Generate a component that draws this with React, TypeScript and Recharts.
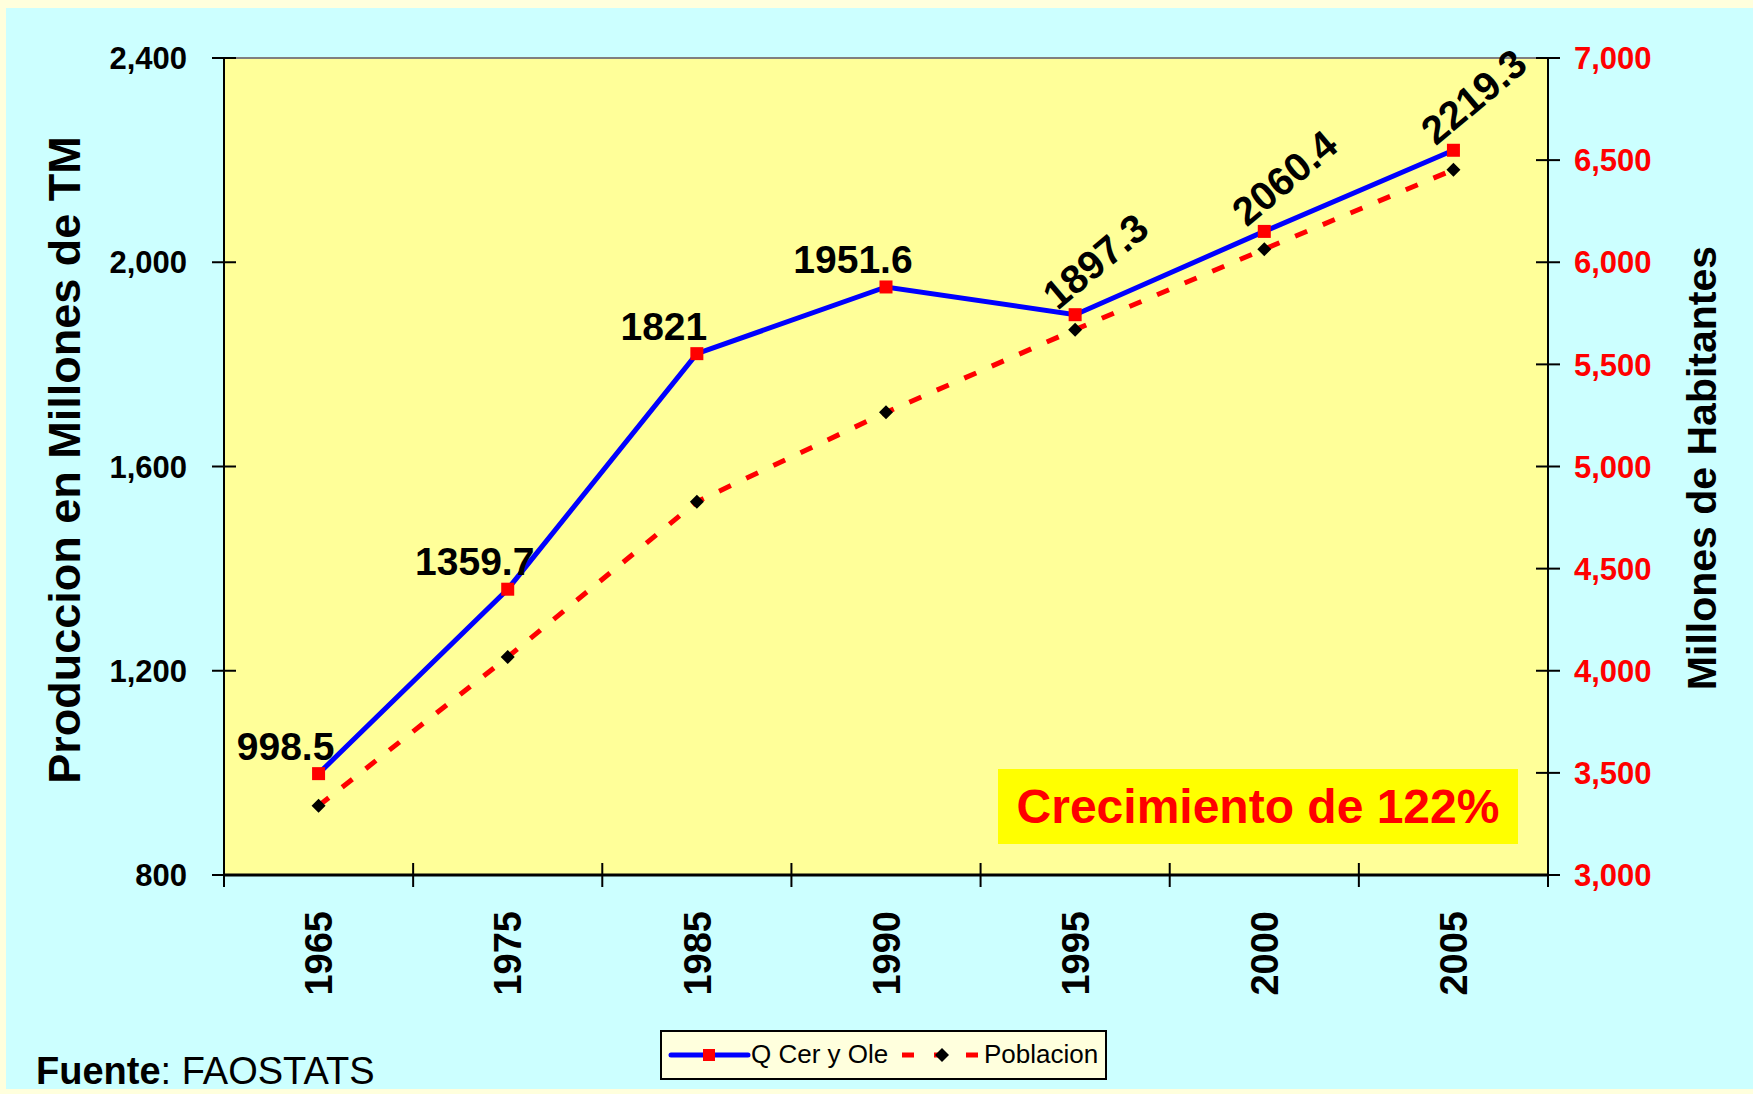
import React from 'react';
import { ComposedChart, Line, XAxis, YAxis, CartesianGrid, ReferenceLine, Legend } from 'recharts';

const years = ['1965', '1975', '1985', '1990', '1995', '2000', '2005'];
const production = [998.5, 1359.7, 1821, 1951.6, 1897.3, 2060.4, 2219.3];
const population = [3339, 4067, 4828, 5265, 5670, 6064, 6453];
const leftTicks = [800, 1200, 1600, 2000, 2400];
const rightTicks = [3000, 3500, 4000, 4500, 5000, 5500, 6000, 6500, 7000];

const data = years.map((y, i) => ({ year: y, prod: production[i], pop: population[i] }));

const W = 1753;
const H = 1094;
const MARGIN = { top: 58, left: 124, right: 105, bottom: 119 };
const Y_AXIS_W = 100;
const PLOT_W = W - MARGIN.left - MARGIN.right - 2 * Y_AXIS_W;
const HALF_BAND = PLOT_W / years.length / 2;
const FONT = '"Liberation Sans", Arial, Helvetica, sans-serif';

const fmt = (v: number) => v.toLocaleString('en-US');

const LeftTick = (props: any) => {
  const { x, y, payload } = props;
  return (
    <g>
      <line x1={x - 12} x2={x + 12} y1={y} y2={y} stroke="#000" strokeWidth={2} />
      <text x={x - 37} y={y} dy="0.36em" textAnchor="end" fontFamily={FONT} fontWeight="bold" fontSize={31} fill="#000">
        {fmt(payload.value)}
      </text>
    </g>
  );
};

const RightTick = (props: any) => {
  const { x, y, payload } = props;
  return (
    <g>
      <line x1={x - 12} x2={x + 12} y1={y} y2={y} stroke="#000" strokeWidth={2} />
      <text x={x + 26} y={y} dy="0.36em" textAnchor="start" fontFamily={FONT} fontWeight="bold" fontSize={31} fill="#FF0000">
        {fmt(payload.value)}
      </text>
    </g>
  );
};

const XTick = (props: any) => {
  const { x, y, payload, index } = props;
  const n = years.length;
  const half = HALF_BAND;
  const ty = y + 36;
  return (
    <g>
      <line x1={x - half} x2={x - half} y1={y - 12} y2={y + 12} stroke="#000" strokeWidth={2} />
      {index === n - 1 && (
        <line x1={x + half} x2={x + half} y1={y - 12} y2={y + 12} stroke="#000" strokeWidth={2} />
      )}
      <text
        x={x}
        y={ty}
        dy="0.36em"
        textAnchor="end"
        transform={`rotate(-90 ${x} ${ty})`}
        fontFamily={FONT}
        fontWeight="bold"
        fontSize={38}
        fill="#000"
      >
        {payload.value}
      </text>
    </g>
  );
};

const ProdLabel = (props: any) => {
  const { x, y, value, index } = props;
  if (index < 4) {
    return (
      <text x={x - 33} y={y - 28} dy="0.36em" textAnchor="middle" fontFamily={FONT} fontWeight="bold" fontSize={39} fill="#000">
        {value}
      </text>
    );
  }
  const cx = x + 20;
  const cy = y - 54;
  return (
    <text
      x={cx}
      y={cy}
      dy="0.36em"
      textAnchor="middle"
      transform={`rotate(-40 ${cx} ${cy})`}
      fontFamily={FONT}
      fontWeight="bold"
      fontSize={40}
      fill="#000"
    >
      {value}
    </text>
  );
};

const SquareDot = (props: any) => {
  const { cx, cy, index } = props;
  return <rect key={`sq-${index}`} x={cx - 6.5} y={cy - 6.5} width={13} height={13} fill="#FF0000" />;
};

const DiamondDot = (props: any) => {
  const { cx, cy, index } = props;
  const r = 7;
  return (
    <path
      key={`dm-${index}`}
      d={`M${cx},${cy - r} L${cx + r},${cy} L${cx},${cy + r} L${cx - r},${cy} Z`}
      fill="#000"
    />
  );
};

const LegendContent = () => (
  <div
    style={{
      width: 447,
      height: 50,
      boxSizing: 'border-box',
      border: '2px solid #000',
      background: '#FFFFDD',
      position: 'relative',
      fontFamily: FONT,
      fontSize: 26,
      color: '#000',
    }}
  >
    <svg width={447} height={46} style={{ position: 'absolute', left: 0, top: 0 }}>
      <line x1={9} x2={86} y1={23} y2={23} stroke="#0000FF" strokeWidth={5} strokeLinecap="round" />
      <rect x={41} y={17} width={12} height={12} fill="#FF0000" />
      <line x1={240} x2={318} y1={23} y2={23} stroke="#FF0000" strokeWidth={5} strokeDasharray="12 20" />
      <path d="M280,16 L287,23 L280,30 L273,23 Z" fill="#000" />
    </svg>
    <span style={{ position: 'absolute', left: 89, top: 7, whiteSpace: 'nowrap' }}>Q Cer y Ole</span>
    <span style={{ position: 'absolute', left: 322, top: 7, whiteSpace: 'nowrap' }}>Poblacion</span>
  </div>
);

export default function App() {
  return (
    <div style={{ position: 'absolute', left: 0, top: 0, width: W, height: H, background: '#FFFFDD', overflow: 'hidden' }}>
      <div style={{ position: 'absolute', left: 6, top: 8, width: W - 6, height: 1081, background: '#CCFFFF' }} />
      <div style={{ position: 'absolute', left: 0, top: 0 }}>
        <ComposedChart width={W} height={H} data={data} margin={MARGIN} style={{ fontFamily: FONT }}>
          <CartesianGrid fill="#FFFF99" stroke="none" horizontal={false} vertical={false} />
          <XAxis
            dataKey="year"
            height={100}
            padding={{ left: HALF_BAND, right: HALF_BAND }}
            tickLine={false}
            tickSize={0}
            tickMargin={0}
            interval={0}
            axisLine={{ stroke: '#000', strokeWidth: 3 }}
            tick={<XTick />}
          />
          <YAxis
            yAxisId="left"
            orientation="left"
            width={Y_AXIS_W}
            type="number"
            domain={[800, 2400]}
            ticks={leftTicks}
            interval={0}
            tickLine={false}
            tickSize={0}
            tickMargin={0}
            axisLine={{ stroke: '#000', strokeWidth: 2 }}
            tick={<LeftTick />}
          />
          <YAxis
            yAxisId="right"
            orientation="right"
            width={Y_AXIS_W}
            type="number"
            domain={[3000, 7000]}
            ticks={rightTicks}
            interval={0}
            tickLine={false}
            tickSize={0}
            tickMargin={0}
            axisLine={{ stroke: '#000', strokeWidth: 2 }}
            tick={<RightTick />}
          />
          <ReferenceLine yAxisId="left" y={2400} stroke="#808080" strokeWidth={2} />
          <Line
            yAxisId="right"
            dataKey="pop"
            name="Poblacion"
            stroke="#FF0000"
            strokeWidth={5}
            strokeDasharray="13 17"
            dot={DiamondDot}
            activeDot={false}
            isAnimationActive={false}
          />
          <Line
            yAxisId="left"
            dataKey="prod"
            name="Q Cer y Ole"
            stroke="#0000FF"
            strokeWidth={5}
            dot={SquareDot}
            activeDot={false}
            label={ProdLabel}
            isAnimationActive={false}
          />
          <Legend
            layout="horizontal"
            verticalAlign="middle"
            align="center"
            content={<LegendContent />}
            wrapperStyle={{ position: 'absolute', left: 660, top: 1030, width: 447, height: 50 }}
          />
        </ComposedChart>
      </div>
      <div
        style={{
          position: 'absolute',
          left: 65,
          top: 460,
          transform: 'translate(-50%, -50%) rotate(-90deg)',
          whiteSpace: 'nowrap',
          fontFamily: FONT,
          fontWeight: 'bold',
          fontSize: 45,
          color: '#000',
        }}
      >
        Produccion en Millones de TM
      </div>
      <div
        style={{
          position: 'absolute',
          left: 1702,
          top: 468,
          transform: 'translate(-50%, -50%) rotate(-90deg)',
          whiteSpace: 'nowrap',
          fontFamily: FONT,
          fontWeight: 'bold',
          fontSize: 41,
          color: '#000',
        }}
      >
        Millones de Habitantes
      </div>
      <div
        style={{
          position: 'absolute',
          left: 998,
          top: 769,
          width: 520,
          height: 75,
          background: '#FFFF00',
          display: 'flex',
          alignItems: 'center',
          justifyContent: 'center',
          fontFamily: FONT,
          fontWeight: 'bold',
          fontSize: 48,
          color: '#FF0000',
          whiteSpace: 'nowrap',
        }}
      >
        Crecimiento de 122%
      </div>
      <div
        style={{
          position: 'absolute',
          left: 36,
          top: 1050,
          fontFamily: FONT,
          fontSize: 38,
          color: '#000',
          whiteSpace: 'nowrap',
          lineHeight: '42px',
        }}
      >
        <b>Fuente</b>: FAOSTATS
      </div>
    </div>
  );
}
